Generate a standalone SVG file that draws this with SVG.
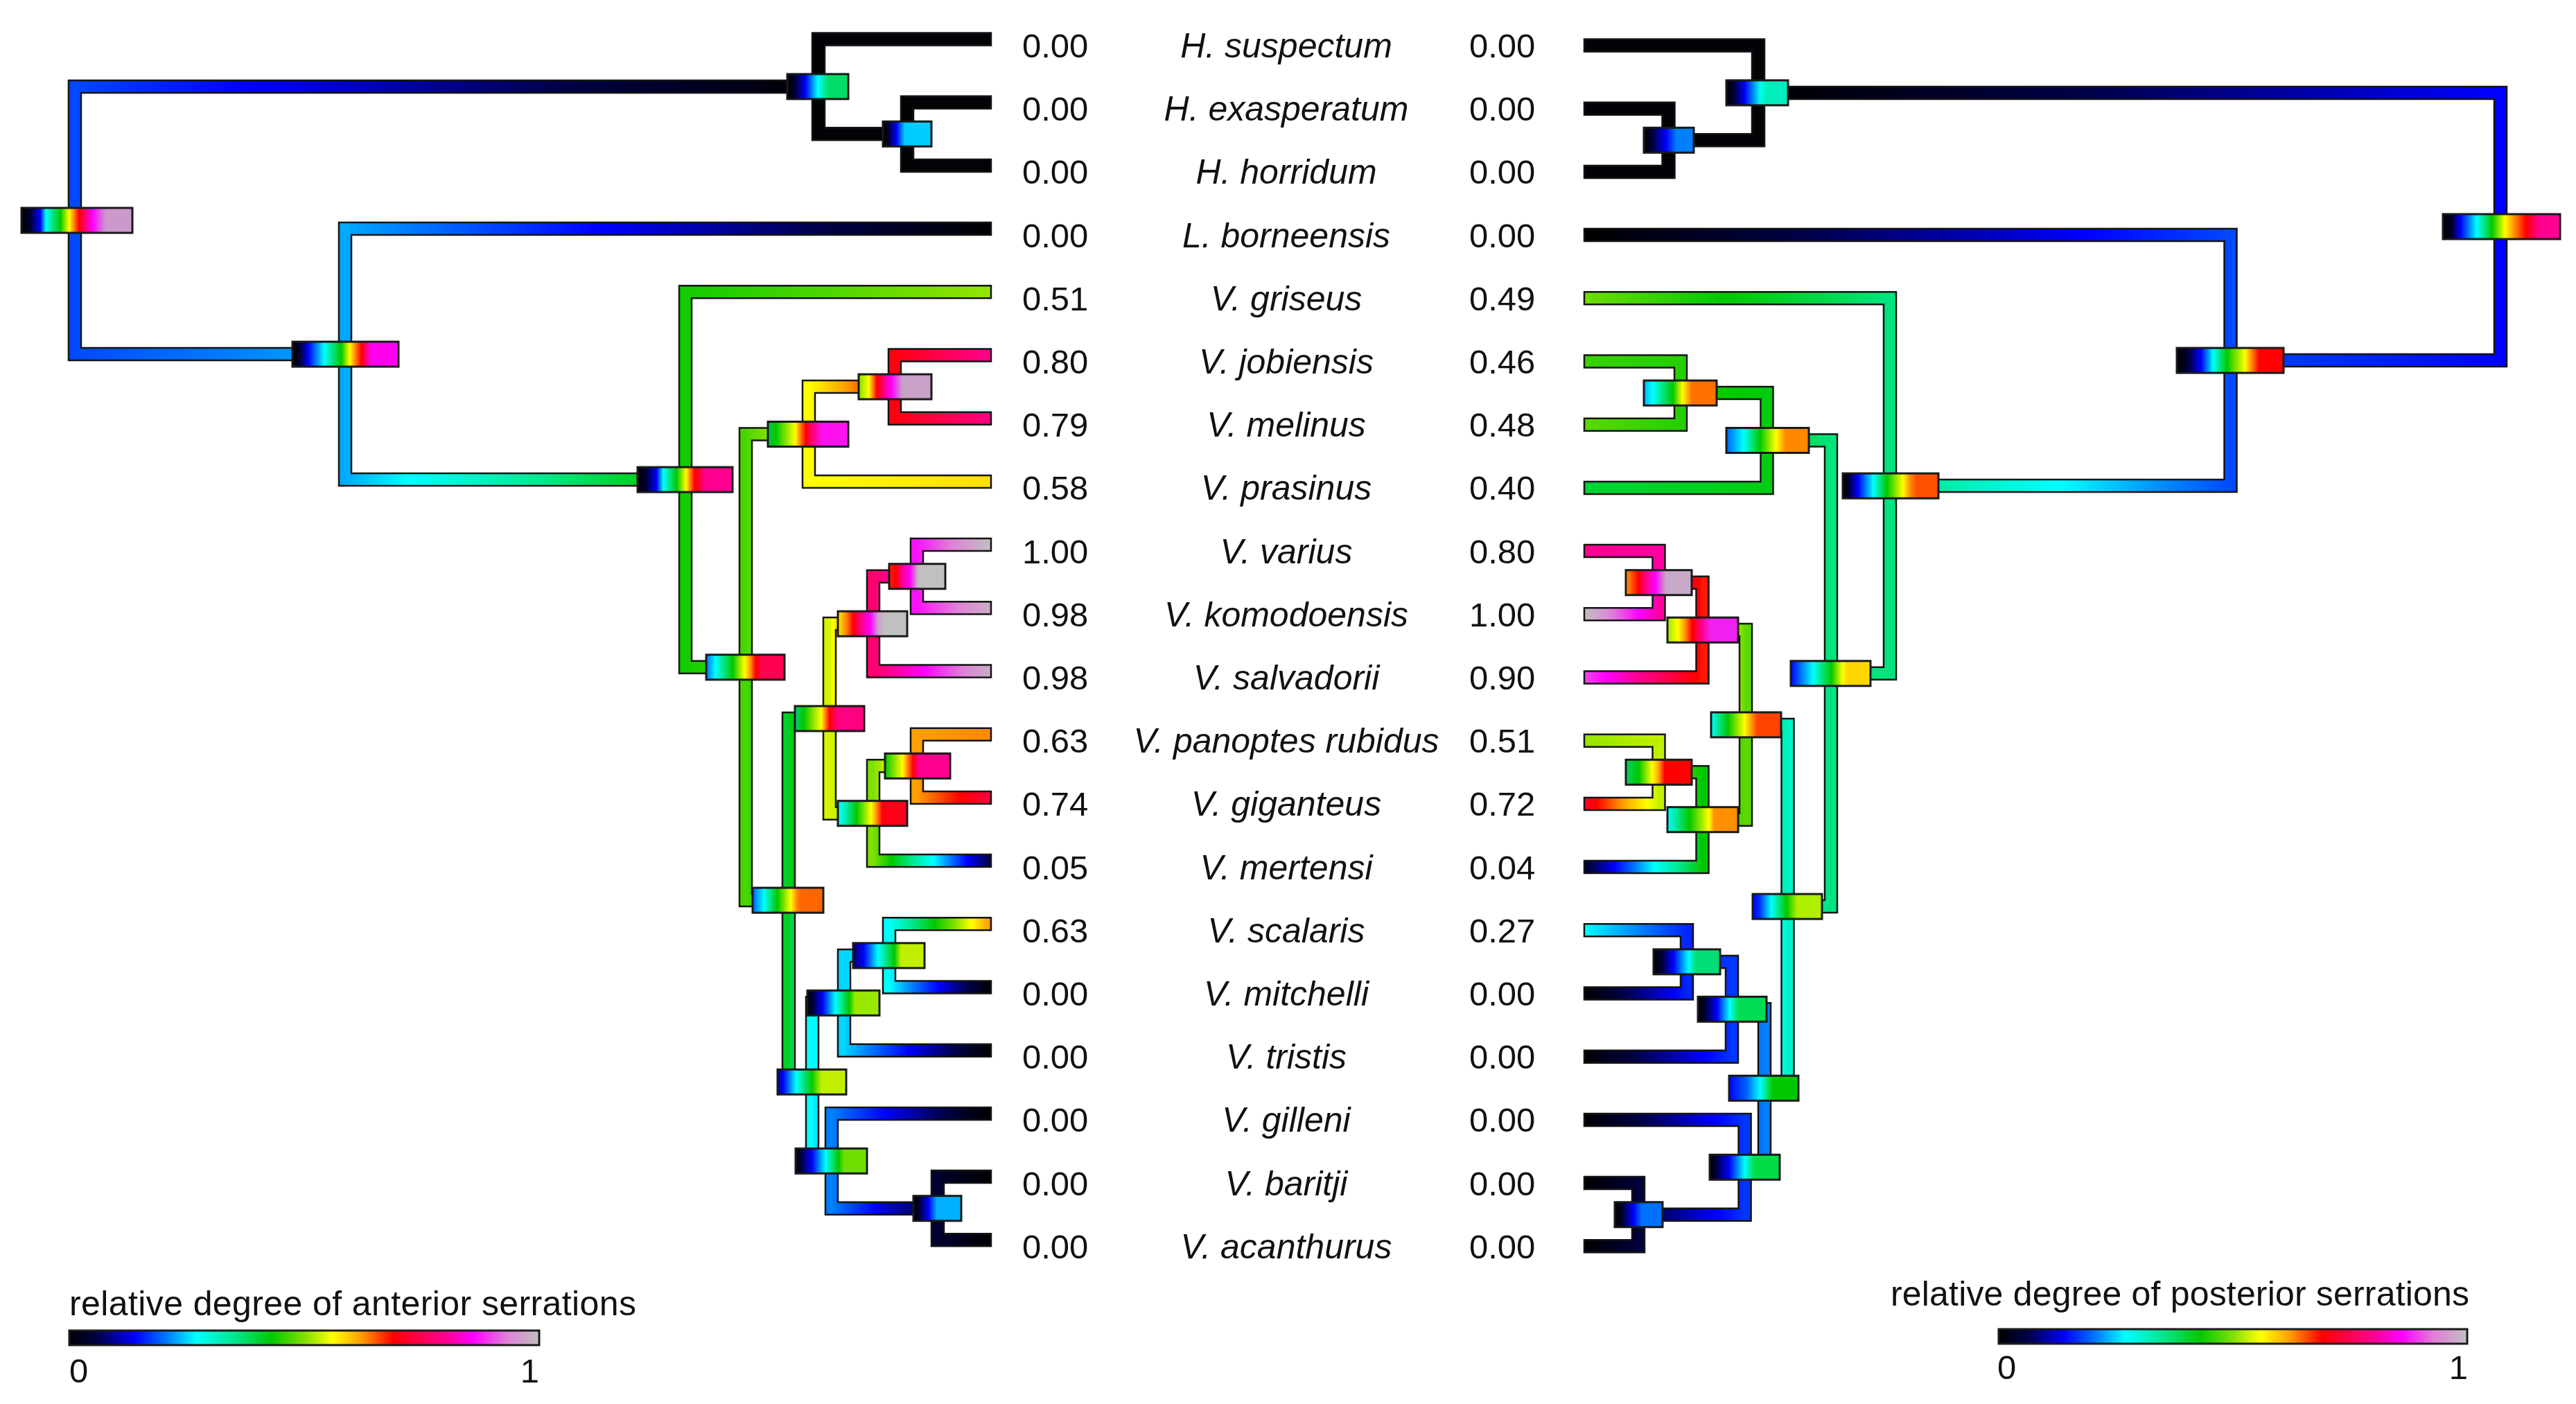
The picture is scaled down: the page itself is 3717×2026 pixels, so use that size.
<svg xmlns="http://www.w3.org/2000/svg" width="3717" height="2026" viewBox="0 0 3717 2026">
<defs>
<style>
.br{stroke:#141414;stroke-width:2.5;stroke-linejoin:miter}
.blk{fill:#020207}
.nd{stroke:#1a1a1a;stroke-width:3}
.num{font-family:"Liberation Sans",Arial,sans-serif;font-size:49px;fill:#111}
.sp{font-family:"Liberation Sans",Arial,sans-serif;font-size:50px;font-style:italic;fill:#111;text-anchor:middle}
.lg{font-family:"Liberation Sans",Arial,sans-serif;font-size:50px;fill:#111}
</style>
<linearGradient id="cmap">
<stop offset="0" stop-color="#000000"/><stop offset="0.06" stop-color="#000045"/><stop offset="0.14" stop-color="#0000ff"/><stop offset="0.21" stop-color="#0080ff"/><stop offset="0.27" stop-color="#00ffff"/><stop offset="0.35" stop-color="#00e890"/><stop offset="0.43" stop-color="#00c800"/><stop offset="0.50" stop-color="#80e000"/><stop offset="0.56" stop-color="#ffff00"/><stop offset="0.62" stop-color="#ffa000"/><stop offset="0.69" stop-color="#ff0000"/><stop offset="0.76" stop-color="#ff0060"/><stop offset="0.80" stop-color="#ff0090"/><stop offset="0.86" stop-color="#ff00ff"/><stop offset="0.93" stop-color="#e080d8"/><stop offset="1" stop-color="#c0c0c0"/>
</linearGradient>
<!-- left branch gradients -->
<linearGradient id="gL_H" gradientUnits="userSpaceOnUse" x1="108" y1="0" x2="1181" y2="0"><stop offset="0" stop-color="#0049ff"/><stop offset="0.222" stop-color="#0000ff"/><stop offset="0.667" stop-color="#000045"/><stop offset="1" stop-color="#000000"/></linearGradient>
<linearGradient id="gL_LV" gradientUnits="userSpaceOnUse" x1="108" y1="0" x2="498" y2="0"><stop offset="0" stop-color="#0049ff"/><stop offset="0.6" stop-color="#0080ff"/><stop offset="1" stop-color="#00aaff"/></linearGradient>
<linearGradient id="gL_born" gradientUnits="userSpaceOnUse" x1="498" y1="0" x2="1430" y2="0"><stop offset="0" stop-color="#00aaff"/><stop offset="0.087" stop-color="#0080ff"/><stop offset="0.391" stop-color="#0000ff"/><stop offset="0.739" stop-color="#000045"/><stop offset="1" stop-color="#000000"/></linearGradient>
<linearGradient id="gL_V1" gradientUnits="userSpaceOnUse" x1="498" y1="0" x2="989" y2="0"><stop offset="0" stop-color="#00aaff"/><stop offset="0.19" stop-color="#00ffff"/><stop offset="0.571" stop-color="#00e890"/><stop offset="0.952" stop-color="#00c800"/><stop offset="1" stop-color="#12cb00"/></linearGradient>
<linearGradient id="gL_gris" gradientUnits="userSpaceOnUse" x1="989" y1="0" x2="1430" y2="0"><stop offset="0" stop-color="#12cb00"/><stop offset="0.857" stop-color="#80e000"/><stop offset="1" stop-color="#95e500"/></linearGradient>
<linearGradient id="gL_X" gradientUnits="userSpaceOnUse" x1="989" y1="0" x2="1076" y2="0"><stop offset="0" stop-color="#12cb00"/><stop offset="1" stop-color="#49d600"/></linearGradient>
<linearGradient id="gL_pjm" gradientUnits="userSpaceOnUse" x1="1076" y1="0" x2="1167" y2="0"><stop offset="0" stop-color="#49d600"/><stop offset="0.333" stop-color="#80e000"/><stop offset="1" stop-color="#ffff00"/></linearGradient>
<linearGradient id="gL_lower" gradientUnits="userSpaceOnUse" x1="1076" y1="0" x2="1138" y2="0"><stop offset="0" stop-color="#49d600"/><stop offset="0.667" stop-color="#00c800"/><stop offset="1" stop-color="#00d024"/></linearGradient>
<linearGradient id="gL_jm" gradientUnits="userSpaceOnUse" x1="1167" y1="0" x2="1291" y2="0"><stop offset="0" stop-color="#ffff00"/><stop offset="0.429" stop-color="#ffa000"/><stop offset="0.929" stop-color="#ff0000"/><stop offset="1" stop-color="#ff000e"/></linearGradient>
<linearGradient id="gL_pras" gradientUnits="userSpaceOnUse" x1="1167" y1="0" x2="1430" y2="0"><stop offset="0" stop-color="#ffff00"/><stop offset="1" stop-color="#ffdf00"/></linearGradient>
<linearGradient id="gL_job" gradientUnits="userSpaceOnUse" x1="1291" y1="0" x2="1430" y2="0"><stop offset="0" stop-color="#ff000e"/><stop offset="0.6" stop-color="#ff0060"/><stop offset="1" stop-color="#ff0090"/></linearGradient>
<linearGradient id="gL_mel" gradientUnits="userSpaceOnUse" x1="1291" y1="0" x2="1430" y2="0"><stop offset="0" stop-color="#ff000e"/><stop offset="0.667" stop-color="#ff0060"/><stop offset="1" stop-color="#ff0084"/></linearGradient>
<linearGradient id="gL_big" gradientUnits="userSpaceOnUse" x1="1138" y1="0" x2="1197" y2="0"><stop offset="0" stop-color="#00d024"/><stop offset="0.154" stop-color="#00c800"/><stop offset="0.692" stop-color="#80e000"/><stop offset="1" stop-color="#d5f500"/></linearGradient>
<linearGradient id="gL_odat" gradientUnits="userSpaceOnUse" x1="1138" y1="0" x2="1172" y2="0"><stop offset="0" stop-color="#00d024"/><stop offset="0.429" stop-color="#00e890"/><stop offset="1" stop-color="#00ffff"/></linearGradient>
<linearGradient id="gL_vks" gradientUnits="userSpaceOnUse" x1="1197" y1="0" x2="1260" y2="0"><stop offset="0" stop-color="#d5f500"/><stop offset="0.087" stop-color="#ffff00"/><stop offset="0.348" stop-color="#ffa000"/><stop offset="0.652" stop-color="#ff0000"/><stop offset="0.957" stop-color="#ff0060"/><stop offset="1" stop-color="#ff006c"/></linearGradient>
<linearGradient id="gL_pgm" gradientUnits="userSpaceOnUse" x1="1197" y1="0" x2="1260" y2="0"><stop offset="0" stop-color="#d5f500"/><stop offset="1" stop-color="#80e000"/></linearGradient>
<linearGradient id="gL_vk" gradientUnits="userSpaceOnUse" x1="1260" y1="0" x2="1323" y2="0"><stop offset="0" stop-color="#ff006c"/><stop offset="0.3" stop-color="#ff0090"/><stop offset="0.9" stop-color="#ff00ff"/><stop offset="1" stop-color="#fa12f9"/></linearGradient>
<linearGradient id="gL_salv" gradientUnits="userSpaceOnUse" x1="1260" y1="0" x2="1430" y2="0"><stop offset="0" stop-color="#ff006c"/><stop offset="0.143" stop-color="#ff0090"/><stop offset="0.429" stop-color="#ff00ff"/><stop offset="0.762" stop-color="#e080d8"/><stop offset="1" stop-color="#c9aec7"/></linearGradient>
<linearGradient id="gL_var" gradientUnits="userSpaceOnUse" x1="1323" y1="0" x2="1430" y2="0"><stop offset="0" stop-color="#fa12f9"/><stop offset="0.462" stop-color="#e080d8"/><stop offset="1" stop-color="#c0c0c0"/></linearGradient>
<linearGradient id="gL_komo" gradientUnits="userSpaceOnUse" x1="1323" y1="0" x2="1430" y2="0"><stop offset="0" stop-color="#fa12f9"/><stop offset="0.545" stop-color="#e080d8"/><stop offset="1" stop-color="#c9aec7"/></linearGradient>
<linearGradient id="gL_pg" gradientUnits="userSpaceOnUse" x1="1260" y1="0" x2="1323" y2="0"><stop offset="0" stop-color="#80e000"/><stop offset="0.5" stop-color="#ffff00"/><stop offset="1" stop-color="#ffa000"/></linearGradient>
<linearGradient id="gL_mert" gradientUnits="userSpaceOnUse" x1="1260" y1="0" x2="1430" y2="0"><stop offset="0" stop-color="#80e000"/><stop offset="0.156" stop-color="#00c800"/><stop offset="0.333" stop-color="#00e890"/><stop offset="0.511" stop-color="#00ffff"/><stop offset="0.644" stop-color="#0080ff"/><stop offset="0.8" stop-color="#0000ff"/><stop offset="1" stop-color="#00003a"/></linearGradient>
<linearGradient id="gL_pan" gradientUnits="userSpaceOnUse" x1="1323" y1="0" x2="1430" y2="0"><stop offset="0" stop-color="#ffa000"/><stop offset="1" stop-color="#ff8900"/></linearGradient>
<linearGradient id="gL_gig" gradientUnits="userSpaceOnUse" x1="1323" y1="0" x2="1430" y2="0"><stop offset="0" stop-color="#ffa000"/><stop offset="0.583" stop-color="#ff0000"/><stop offset="1" stop-color="#ff0045"/></linearGradient>
<linearGradient id="gL_smt" gradientUnits="userSpaceOnUse" x1="1172" y1="0" x2="1218" y2="0"><stop offset="0" stop-color="#00ffff"/><stop offset="1" stop-color="#00d5ff"/></linearGradient>
<linearGradient id="gL_gba" gradientUnits="userSpaceOnUse" x1="1172" y1="0" x2="1200" y2="0"><stop offset="0" stop-color="#00ffff"/><stop offset="1" stop-color="#0080ff"/></linearGradient>
<linearGradient id="gL_sm" gradientUnits="userSpaceOnUse" x1="1218" y1="0" x2="1283" y2="0"><stop offset="0" stop-color="#00d5ff"/><stop offset="1" stop-color="#00ffff"/></linearGradient>
<linearGradient id="gL_tris" gradientUnits="userSpaceOnUse" x1="1218" y1="0" x2="1430" y2="0"><stop offset="0" stop-color="#00d5ff"/><stop offset="0.16" stop-color="#0080ff"/><stop offset="0.44" stop-color="#0000ff"/><stop offset="0.76" stop-color="#000045"/><stop offset="1" stop-color="#000000"/></linearGradient>
<linearGradient id="gL_scal" gradientUnits="userSpaceOnUse" x1="1283" y1="0" x2="1430" y2="0"><stop offset="0" stop-color="#00ffff"/><stop offset="0.222" stop-color="#00e890"/><stop offset="0.444" stop-color="#00c800"/><stop offset="0.639" stop-color="#80e000"/><stop offset="0.806" stop-color="#ffff00"/><stop offset="0.972" stop-color="#ffa000"/><stop offset="1" stop-color="#ff8900"/></linearGradient>
<linearGradient id="gL_mitch" gradientUnits="userSpaceOnUse" x1="1283" y1="0" x2="1430" y2="0"><stop offset="0" stop-color="#00ffff"/><stop offset="0.222" stop-color="#0080ff"/><stop offset="0.481" stop-color="#0000ff"/><stop offset="0.778" stop-color="#000045"/><stop offset="1" stop-color="#000000"/></linearGradient>
<linearGradient id="gL_gill" gradientUnits="userSpaceOnUse" x1="1200" y1="0" x2="1430" y2="0"><stop offset="0" stop-color="#0080ff"/><stop offset="0.333" stop-color="#0000ff"/><stop offset="0.714" stop-color="#000045"/><stop offset="1" stop-color="#000000"/></linearGradient>
<linearGradient id="gL_ba" gradientUnits="userSpaceOnUse" x1="1200" y1="0" x2="1353" y2="0"><stop offset="0" stop-color="#0080ff"/><stop offset="0.412" stop-color="#0000ff"/><stop offset="0.882" stop-color="#000045"/><stop offset="1" stop-color="#00002e"/></linearGradient>
<linearGradient id="gL_bar" gradientUnits="userSpaceOnUse" x1="1353" y1="0" x2="1430" y2="0"><stop offset="0" stop-color="#00002e"/><stop offset="1" stop-color="#000000"/></linearGradient>
<!-- right branch gradients -->
<linearGradient id="gR_H" gradientUnits="userSpaceOnUse" x1="3608" y1="0" x2="2537" y2="0"><stop offset="0" stop-color="#0000ff"/><stop offset="0.571" stop-color="#000045"/><stop offset="1" stop-color="#000000"/></linearGradient>
<linearGradient id="gR_LV" gradientUnits="userSpaceOnUse" x1="3608" y1="0" x2="3218.5" y2="0"><stop offset="0" stop-color="#0000ff"/><stop offset="1" stop-color="#0049ff"/></linearGradient>
<linearGradient id="gR_born" gradientUnits="userSpaceOnUse" x1="3218.5" y1="0" x2="2286" y2="0"><stop offset="0" stop-color="#0049ff"/><stop offset="0.222" stop-color="#0000ff"/><stop offset="0.667" stop-color="#000045"/><stop offset="1" stop-color="#000000"/></linearGradient>
<linearGradient id="gR_V1" gradientUnits="userSpaceOnUse" x1="3218.5" y1="0" x2="2727" y2="0"><stop offset="0" stop-color="#0049ff"/><stop offset="0.167" stop-color="#0080ff"/><stop offset="0.5" stop-color="#00ffff"/><stop offset="0.944" stop-color="#00e890"/><stop offset="1" stop-color="#00e47e"/></linearGradient>
<linearGradient id="gR_gris" gradientUnits="userSpaceOnUse" x1="2727" y1="0" x2="2286" y2="0"><stop offset="0" stop-color="#00e47e"/><stop offset="0.538" stop-color="#00c800"/><stop offset="1" stop-color="#6edd00"/></linearGradient>
<linearGradient id="gR_pjm" gradientUnits="userSpaceOnUse" x1="2642" y1="0" x2="2549.5" y2="0"><stop offset="0" stop-color="#00e47e"/><stop offset="1" stop-color="#00cc12"/></linearGradient>
<linearGradient id="gR_lower" gradientUnits="userSpaceOnUse" x1="2642" y1="0" x2="2579.5" y2="0"><stop offset="0" stop-color="#00e47e"/><stop offset="0.2" stop-color="#00e890"/><stop offset="1" stop-color="#00f3c8"/></linearGradient>
<linearGradient id="gR_jm" gradientUnits="userSpaceOnUse" x1="2549.5" y1="0" x2="2425" y2="0"><stop offset="0" stop-color="#00cc12"/><stop offset="0.333" stop-color="#00c800"/><stop offset="1" stop-color="#25cf00"/></linearGradient>
<linearGradient id="gR_pras" gradientUnits="userSpaceOnUse" x1="2549.5" y1="0" x2="2286" y2="0"><stop offset="0" stop-color="#00cc12"/><stop offset="1" stop-color="#00d436"/></linearGradient>
<linearGradient id="gR_job" gradientUnits="userSpaceOnUse" x1="2425" y1="0" x2="2286" y2="0"><stop offset="0" stop-color="#25cf00"/><stop offset="1" stop-color="#37d200"/></linearGradient>
<linearGradient id="gR_mel" gradientUnits="userSpaceOnUse" x1="2425" y1="0" x2="2286" y2="0"><stop offset="0" stop-color="#25cf00"/><stop offset="1" stop-color="#5bd900"/></linearGradient>
<linearGradient id="gR_big" gradientUnits="userSpaceOnUse" x1="2579.5" y1="0" x2="2519" y2="0"><stop offset="0" stop-color="#00f3c8"/><stop offset="0.235" stop-color="#00e890"/><stop offset="0.706" stop-color="#00c800"/><stop offset="1" stop-color="#5bd900"/></linearGradient>
<linearGradient id="gR_odat" gradientUnits="userSpaceOnUse" x1="2579.5" y1="0" x2="2546" y2="0"><stop offset="0" stop-color="#00f3c8"/><stop offset="0.4" stop-color="#00ffff"/><stop offset="1" stop-color="#0080ff"/></linearGradient>
<linearGradient id="gR_vks" gradientUnits="userSpaceOnUse" x1="2519" y1="0" x2="2456.5" y2="0"><stop offset="0" stop-color="#5bd900"/><stop offset="0.1" stop-color="#80e000"/><stop offset="0.4" stop-color="#ffff00"/><stop offset="0.7" stop-color="#ffa000"/><stop offset="1" stop-color="#ff1700"/></linearGradient>
<linearGradient id="gR_pgm" gradientUnits="userSpaceOnUse" x1="2519" y1="0" x2="2456.5" y2="0"><stop offset="0" stop-color="#5bd900"/><stop offset="1" stop-color="#00c800"/></linearGradient>
<linearGradient id="gR_vk" gradientUnits="userSpaceOnUse" x1="2456.5" y1="0" x2="2393.5" y2="0"><stop offset="0" stop-color="#ff1700"/><stop offset="0.077" stop-color="#ff0000"/><stop offset="0.615" stop-color="#ff0060"/><stop offset="0.923" stop-color="#ff0090"/><stop offset="1" stop-color="#ff00a2"/></linearGradient>
<linearGradient id="gR_salv" gradientUnits="userSpaceOnUse" x1="2456.5" y1="0" x2="2286" y2="0"><stop offset="0" stop-color="#ff1700"/><stop offset="0.045" stop-color="#ff0000"/><stop offset="0.364" stop-color="#ff0060"/><stop offset="0.545" stop-color="#ff0090"/><stop offset="0.818" stop-color="#ff00ff"/><stop offset="1" stop-color="#ed49e8"/></linearGradient>
<linearGradient id="gR_var" gradientUnits="userSpaceOnUse" x1="2393.5" y1="0" x2="2286" y2="0"><stop offset="0" stop-color="#ff00a2"/><stop offset="1" stop-color="#ff0090"/></linearGradient>
<linearGradient id="gR_komo" gradientUnits="userSpaceOnUse" x1="2393.5" y1="0" x2="2286" y2="0"><stop offset="0" stop-color="#ff00a2"/><stop offset="0.263" stop-color="#ff00ff"/><stop offset="0.632" stop-color="#e080d8"/><stop offset="1" stop-color="#c0c0c0"/></linearGradient>
<linearGradient id="gR_pg" gradientUnits="userSpaceOnUse" x1="2456.5" y1="0" x2="2393.5" y2="0"><stop offset="0" stop-color="#00c800"/><stop offset="0.7" stop-color="#80e000"/><stop offset="1" stop-color="#c0f000"/></linearGradient>
<linearGradient id="gR_mert" gradientUnits="userSpaceOnUse" x1="2456.5" y1="0" x2="2286" y2="0"><stop offset="0" stop-color="#00c800"/><stop offset="0.205" stop-color="#00e890"/><stop offset="0.41" stop-color="#00ffff"/><stop offset="0.564" stop-color="#0080ff"/><stop offset="0.744" stop-color="#0000ff"/><stop offset="0.949" stop-color="#000045"/><stop offset="1" stop-color="#00002e"/></linearGradient>
<linearGradient id="gR_pan" gradientUnits="userSpaceOnUse" x1="2393.5" y1="0" x2="2286" y2="0"><stop offset="0" stop-color="#c0f000"/><stop offset="1" stop-color="#95e500"/></linearGradient>
<linearGradient id="gR_gig" gradientUnits="userSpaceOnUse" x1="2393.5" y1="0" x2="2286" y2="0"><stop offset="0" stop-color="#c0f000"/><stop offset="0.158" stop-color="#ffff00"/><stop offset="0.474" stop-color="#ffa000"/><stop offset="0.842" stop-color="#ff0000"/><stop offset="1" stop-color="#ff0029"/></linearGradient>
<linearGradient id="gR_smt" gradientUnits="userSpaceOnUse" x1="2546" y1="0" x2="2499" y2="0"><stop offset="0" stop-color="#0080ff"/><stop offset="1" stop-color="#0037ff"/></linearGradient>
<linearGradient id="gR_gba" gradientUnits="userSpaceOnUse" x1="2546" y1="0" x2="2517.6" y2="0"><stop offset="0" stop-color="#0080ff"/><stop offset="1" stop-color="#0037ff"/></linearGradient>
<linearGradient id="gR_sm" gradientUnits="userSpaceOnUse" x1="2499" y1="0" x2="2434" y2="0"><stop offset="0" stop-color="#0037ff"/><stop offset="1" stop-color="#0025ff"/></linearGradient>
<linearGradient id="gR_tris" gradientUnits="userSpaceOnUse" x1="2499" y1="0" x2="2286" y2="0"><stop offset="0" stop-color="#0037ff"/><stop offset="0.176" stop-color="#0000ff"/><stop offset="0.647" stop-color="#000045"/><stop offset="1" stop-color="#000000"/></linearGradient>
<linearGradient id="gR_scal" gradientUnits="userSpaceOnUse" x1="2434" y1="0" x2="2286" y2="0"><stop offset="0" stop-color="#0025ff"/><stop offset="0.455" stop-color="#0080ff"/><stop offset="1" stop-color="#00ffff"/></linearGradient>
<linearGradient id="gR_mitch" gradientUnits="userSpaceOnUse" x1="2434" y1="0" x2="2286" y2="0"><stop offset="0" stop-color="#0025ff"/><stop offset="0.125" stop-color="#0000ff"/><stop offset="0.625" stop-color="#000045"/><stop offset="1" stop-color="#000000"/></linearGradient>
<linearGradient id="gR_gill" gradientUnits="userSpaceOnUse" x1="2517.6" y1="0" x2="2286" y2="0"><stop offset="0" stop-color="#0037ff"/><stop offset="0.176" stop-color="#0000ff"/><stop offset="0.647" stop-color="#000045"/><stop offset="1" stop-color="#000000"/></linearGradient>
<linearGradient id="gR_ba" gradientUnits="userSpaceOnUse" x1="2517.6" y1="0" x2="2364" y2="0"><stop offset="0" stop-color="#0037ff"/><stop offset="0.25" stop-color="#0000ff"/><stop offset="0.917" stop-color="#000045"/><stop offset="1" stop-color="#00003a"/></linearGradient>
<linearGradient id="gR_bar" gradientUnits="userSpaceOnUse" x1="2364" y1="0" x2="2286" y2="0"><stop offset="0" stop-color="#00003a"/><stop offset="1" stop-color="#000000"/></linearGradient>
<!-- left node boxes -->
<linearGradient id="bL_root"><stop offset="0" stop-color="#000"/><stop offset="0.08" stop-color="#000030"/><stop offset="0.17" stop-color="#0000ff"/><stop offset="0.22" stop-color="#00ffff"/><stop offset="0.35" stop-color="#00c800"/><stop offset="0.43" stop-color="#ffff00"/><stop offset="0.52" stop-color="#ff0000"/><stop offset="0.64" stop-color="#ff00ff"/><stop offset="0.76" stop-color="#cc99cc"/><stop offset="1" stop-color="#cc99cc"/></linearGradient>
<linearGradient id="bL_H"><stop offset="0" stop-color="#000"/><stop offset="0.13" stop-color="#000030"/><stop offset="0.3" stop-color="#0000ff"/><stop offset="0.5" stop-color="#00ffff"/><stop offset="0.68" stop-color="#00dd66"/><stop offset="1" stop-color="#00dd66"/></linearGradient>
<linearGradient id="bL_Heh"><stop offset="0" stop-color="#000"/><stop offset="0.1" stop-color="#000020"/><stop offset="0.28" stop-color="#0000ff"/><stop offset="0.45" stop-color="#00ccff"/><stop offset="1" stop-color="#00ccff"/></linearGradient>
<linearGradient id="bL_LV"><stop offset="0" stop-color="#000"/><stop offset="0.07" stop-color="#000030"/><stop offset="0.15" stop-color="#0000ff"/><stop offset="0.3" stop-color="#00ffff"/><stop offset="0.46" stop-color="#00c800"/><stop offset="0.54" stop-color="#ffff00"/><stop offset="0.65" stop-color="#ff0000"/><stop offset="0.74" stop-color="#ff00ee"/><stop offset="1" stop-color="#ff00ee"/></linearGradient>
<linearGradient id="bL_V1"><stop offset="0" stop-color="#000"/><stop offset="0.09" stop-color="#000030"/><stop offset="0.2" stop-color="#0000ff"/><stop offset="0.27" stop-color="#00ffff"/><stop offset="0.41" stop-color="#00c800"/><stop offset="0.51" stop-color="#ffff00"/><stop offset="0.6" stop-color="#ff0000"/><stop offset="0.72" stop-color="#ff0090"/><stop offset="1" stop-color="#ff0090"/></linearGradient>
<linearGradient id="bL_X"><stop offset="0" stop-color="#0070ff"/><stop offset="0.12" stop-color="#00ffff"/><stop offset="0.34" stop-color="#00c800"/><stop offset="0.49" stop-color="#ffff00"/><stop offset="0.56" stop-color="#ffa000"/><stop offset="0.63" stop-color="#ff0000"/><stop offset="0.71" stop-color="#ff0050"/><stop offset="1" stop-color="#ff0050"/></linearGradient>
<linearGradient id="bL_pjm"><stop offset="0" stop-color="#00c850"/><stop offset="0.1" stop-color="#00c800"/><stop offset="0.34" stop-color="#ffff00"/><stop offset="0.47" stop-color="#ff0000"/><stop offset="0.56" stop-color="#ff0080"/><stop offset="0.67" stop-color="#ff10f0"/><stop offset="1" stop-color="#ff10f0"/></linearGradient>
<linearGradient id="bL_jm"><stop offset="0" stop-color="#80e000"/><stop offset="0.14" stop-color="#ffff00"/><stop offset="0.25" stop-color="#ff0000"/><stop offset="0.45" stop-color="#ff00ff"/><stop offset="0.6" stop-color="#c8a0c8"/><stop offset="1" stop-color="#c8a0c8"/></linearGradient>
<linearGradient id="bL_lower"><stop offset="0" stop-color="#0060ff"/><stop offset="0.16" stop-color="#00ffff"/><stop offset="0.35" stop-color="#00c800"/><stop offset="0.54" stop-color="#ffff00"/><stop offset="0.63" stop-color="#ff8000"/><stop offset="0.68" stop-color="#ff6600"/><stop offset="1" stop-color="#ff6600"/></linearGradient>
<linearGradient id="bL_big"><stop offset="0" stop-color="#00d070"/><stop offset="0.13" stop-color="#00c800"/><stop offset="0.25" stop-color="#80e000"/><stop offset="0.38" stop-color="#ffff00"/><stop offset="0.5" stop-color="#ff0000"/><stop offset="0.62" stop-color="#ff0080"/><stop offset="1" stop-color="#ff0080"/></linearGradient>
<linearGradient id="bL_vks"><stop offset="0" stop-color="#ffee00"/><stop offset="0.12" stop-color="#ff8800"/><stop offset="0.22" stop-color="#ff0000"/><stop offset="0.33" stop-color="#ff0080"/><stop offset="0.47" stop-color="#ff00ff"/><stop offset="0.58" stop-color="#d0a0d0"/><stop offset="0.68" stop-color="#c0c0c0"/><stop offset="1" stop-color="#c0c0c0"/></linearGradient>
<linearGradient id="bL_vk"><stop offset="0" stop-color="#ff2000"/><stop offset="0.12" stop-color="#ff0000"/><stop offset="0.22" stop-color="#ff0080"/><stop offset="0.37" stop-color="#ff00ff"/><stop offset="0.52" stop-color="#c0c0c0"/><stop offset="1" stop-color="#c0c0c0"/></linearGradient>
<linearGradient id="bL_pgm"><stop offset="0" stop-color="#00ffff"/><stop offset="0.1" stop-color="#00f0c0"/><stop offset="0.27" stop-color="#00c800"/><stop offset="0.48" stop-color="#ffff00"/><stop offset="0.55" stop-color="#ffa000"/><stop offset="0.64" stop-color="#ff0010"/><stop offset="1" stop-color="#ff0020"/></linearGradient>
<linearGradient id="bL_pg"><stop offset="0" stop-color="#00c800"/><stop offset="0.27" stop-color="#ffff00"/><stop offset="0.43" stop-color="#ff0000"/><stop offset="0.52" stop-color="#ff0090"/><stop offset="1" stop-color="#ff0090"/></linearGradient>
<linearGradient id="bL_odat"><stop offset="0" stop-color="#0000aa"/><stop offset="0.08" stop-color="#0000ff"/><stop offset="0.27" stop-color="#00ffff"/><stop offset="0.5" stop-color="#00c800"/><stop offset="0.64" stop-color="#c0f000"/><stop offset="1" stop-color="#c0f000"/></linearGradient>
<linearGradient id="bL_smt"><stop offset="0" stop-color="#000"/><stop offset="0.08" stop-color="#000040"/><stop offset="0.21" stop-color="#0000ff"/><stop offset="0.39" stop-color="#00ffff"/><stop offset="0.58" stop-color="#00c800"/><stop offset="0.66" stop-color="#99e800"/><stop offset="1" stop-color="#99e800"/></linearGradient>
<linearGradient id="bL_sm"><stop offset="0" stop-color="#000060"/><stop offset="0.15" stop-color="#0000ff"/><stop offset="0.35" stop-color="#00ffff"/><stop offset="0.58" stop-color="#00c800"/><stop offset="0.67" stop-color="#c0f000"/><stop offset="1" stop-color="#c0f000"/></linearGradient>
<linearGradient id="bL_gba"><stop offset="0" stop-color="#000"/><stop offset="0.08" stop-color="#000040"/><stop offset="0.23" stop-color="#0000ff"/><stop offset="0.42" stop-color="#00ffff"/><stop offset="0.6" stop-color="#00c800"/><stop offset="0.68" stop-color="#6ee000"/><stop offset="1" stop-color="#6ee000"/></linearGradient>
<linearGradient id="bL_ba"><stop offset="0" stop-color="#000"/><stop offset="0.12" stop-color="#000030"/><stop offset="0.32" stop-color="#0000ff"/><stop offset="0.49" stop-color="#00b0ff"/><stop offset="1" stop-color="#00b0ff"/></linearGradient>
<!-- right node boxes -->
<linearGradient id="bR_root"><stop offset="0" stop-color="#000"/><stop offset="0.08" stop-color="#000030"/><stop offset="0.15" stop-color="#0000ff"/><stop offset="0.29" stop-color="#00ffff"/><stop offset="0.42" stop-color="#00c800"/><stop offset="0.53" stop-color="#ffff00"/><stop offset="0.71" stop-color="#ff0000"/><stop offset="0.82" stop-color="#ff0090"/><stop offset="1" stop-color="#ff0090"/></linearGradient>
<linearGradient id="bR_H"><stop offset="0" stop-color="#000"/><stop offset="0.12" stop-color="#000030"/><stop offset="0.3" stop-color="#0000ff"/><stop offset="0.55" stop-color="#00ffee"/><stop offset="0.65" stop-color="#00eebb"/><stop offset="1" stop-color="#00eebb"/></linearGradient>
<linearGradient id="bR_Heh"><stop offset="0" stop-color="#000"/><stop offset="0.15" stop-color="#000030"/><stop offset="0.45" stop-color="#0000ff"/><stop offset="0.65" stop-color="#0080ff"/><stop offset="1" stop-color="#0080ff"/></linearGradient>
<linearGradient id="bR_LV"><stop offset="0" stop-color="#000"/><stop offset="0.1" stop-color="#000030"/><stop offset="0.23" stop-color="#0000ff"/><stop offset="0.34" stop-color="#00ffff"/><stop offset="0.47" stop-color="#00c800"/><stop offset="0.64" stop-color="#ffff00"/><stop offset="0.77" stop-color="#ff0000"/><stop offset="1" stop-color="#ff0000"/></linearGradient>
<linearGradient id="bR_V1"><stop offset="0" stop-color="#000"/><stop offset="0.06" stop-color="#000030"/><stop offset="0.16" stop-color="#0000ff"/><stop offset="0.32" stop-color="#00ffff"/><stop offset="0.46" stop-color="#00c800"/><stop offset="0.63" stop-color="#ffff00"/><stop offset="0.7" stop-color="#ff9000"/><stop offset="0.77" stop-color="#ff5000"/><stop offset="1" stop-color="#ff5000"/></linearGradient>
<linearGradient id="bR_X"><stop offset="0" stop-color="#0000ff"/><stop offset="0.14" stop-color="#0080ff"/><stop offset="0.28" stop-color="#00ffff"/><stop offset="0.51" stop-color="#00c800"/><stop offset="0.65" stop-color="#ffff00"/><stop offset="0.71" stop-color="#ffd700"/><stop offset="1" stop-color="#ffd700"/></linearGradient>
<linearGradient id="bR_pjm"><stop offset="0" stop-color="#0060ff"/><stop offset="0.21" stop-color="#00ffff"/><stop offset="0.41" stop-color="#00c800"/><stop offset="0.6" stop-color="#ffff00"/><stop offset="0.72" stop-color="#ff8800"/><stop offset="1" stop-color="#ff8800"/></linearGradient>
<linearGradient id="bR_jm"><stop offset="0" stop-color="#00b0ff"/><stop offset="0.12" stop-color="#00ffff"/><stop offset="0.4" stop-color="#00c800"/><stop offset="0.53" stop-color="#ffff00"/><stop offset="0.66" stop-color="#ff7000"/><stop offset="1" stop-color="#ff7000"/></linearGradient>
<linearGradient id="bR_lower"><stop offset="0" stop-color="#0000ff"/><stop offset="0.1" stop-color="#0030ff"/><stop offset="0.27" stop-color="#00ffff"/><stop offset="0.49" stop-color="#00c800"/><stop offset="0.64" stop-color="#b0ee00"/><stop offset="1" stop-color="#b0ee00"/></linearGradient>
<linearGradient id="bR_big"><stop offset="0" stop-color="#00ffff"/><stop offset="0.24" stop-color="#00c800"/><stop offset="0.48" stop-color="#ffff00"/><stop offset="0.57" stop-color="#ffa000"/><stop offset="0.66" stop-color="#ff4400"/><stop offset="1" stop-color="#ff4400"/></linearGradient>
<linearGradient id="bR_vks"><stop offset="0" stop-color="#a0e800"/><stop offset="0.15" stop-color="#ffff00"/><stop offset="0.24" stop-color="#ffa000"/><stop offset="0.35" stop-color="#ff0000"/><stop offset="0.48" stop-color="#ff0080"/><stop offset="0.61" stop-color="#f020f0"/><stop offset="1" stop-color="#f020f0"/></linearGradient>
<linearGradient id="bR_vk"><stop offset="0" stop-color="#ffa000"/><stop offset="0.19" stop-color="#ff0000"/><stop offset="0.3" stop-color="#ff0080"/><stop offset="0.45" stop-color="#ff00ff"/><stop offset="0.61" stop-color="#c8a8c8"/><stop offset="1" stop-color="#c8a8c8"/></linearGradient>
<linearGradient id="bR_pgm"><stop offset="0" stop-color="#00ffff"/><stop offset="0.31" stop-color="#00c800"/><stop offset="0.59" stop-color="#ffff00"/><stop offset="0.66" stop-color="#ff9000"/><stop offset="1" stop-color="#ff9000"/></linearGradient>
<linearGradient id="bR_pg"><stop offset="0" stop-color="#00d060"/><stop offset="0.2" stop-color="#00c800"/><stop offset="0.4" stop-color="#ffff00"/><stop offset="0.5" stop-color="#ffa000"/><stop offset="0.59" stop-color="#ff0000"/><stop offset="1" stop-color="#ff0000"/></linearGradient>
<linearGradient id="bR_sm"><stop offset="0" stop-color="#000"/><stop offset="0.12" stop-color="#000030"/><stop offset="0.3" stop-color="#0000ff"/><stop offset="0.53" stop-color="#00ffff"/><stop offset="0.63" stop-color="#00dd77"/><stop offset="1" stop-color="#00dd77"/></linearGradient>
<linearGradient id="bR_smt"><stop offset="0" stop-color="#000"/><stop offset="0.1" stop-color="#000030"/><stop offset="0.28" stop-color="#0000ff"/><stop offset="0.46" stop-color="#00ffff"/><stop offset="0.59" stop-color="#00dd55"/><stop offset="1" stop-color="#00dd55"/></linearGradient>
<linearGradient id="bR_odat"><stop offset="0" stop-color="#0000ff"/><stop offset="0.25" stop-color="#0060ff"/><stop offset="0.45" stop-color="#00ffff"/><stop offset="0.63" stop-color="#00c800"/><stop offset="1" stop-color="#00c800"/></linearGradient>
<linearGradient id="bR_gba"><stop offset="0" stop-color="#000"/><stop offset="0.08" stop-color="#000030"/><stop offset="0.28" stop-color="#0000ff"/><stop offset="0.5" stop-color="#00ffff"/><stop offset="0.64" stop-color="#00dd44"/><stop offset="1" stop-color="#00dd44"/></linearGradient>
<linearGradient id="bR_ba"><stop offset="0" stop-color="#000"/><stop offset="0.14" stop-color="#000020"/><stop offset="0.4" stop-color="#0000ff"/><stop offset="0.56" stop-color="#0070ff"/><stop offset="1" stop-color="#0070ff"/></linearGradient>
</defs>
<rect width="3717" height="2026" fill="#ffffff"/>

<g id="connectors">
<g id="left-branches">
<polygon class="br" fill="url(#gL_H)" points="99,318 99,115.9 1181,115.9 1181,133.9 117,133.9 117,318"/>
<polygon class="br" fill="url(#gL_LV)" points="99,318 99,520.1 498,520.1 498,502.1 117,502.1 117,318"/>
<polygon class="br blk" points="1172,124.9 1172,47.5 1430,47.5 1430,65.5 1190,65.5 1190,124.9"/>
<polygon class="br blk" points="1172,124.9 1172,202.3 1309,202.3 1309,184.3 1190,184.3 1190,124.9"/>
<polygon class="br blk" points="1300,193.3 1300,138.7 1430,138.7 1430,156.7 1318,156.7 1318,193.3"/>
<polygon class="br blk" points="1300,193.3 1300,247.9 1430,247.9 1430,229.9 1318,229.9 1318,193.3"/>
<polygon class="br" fill="url(#gL_born)" points="489,511.1 489,321.1 1430,321.1 1430,339.1 507,339.1 507,511.1"/>
<polygon class="br" fill="url(#gL_V1)" points="489,511.1 489,701.1 989,701.1 989,683.1 507,683.1 507,511.1"/>
<polygon class="br" fill="url(#gL_gris)" points="980,692.1 980,412.3 1430,412.3 1430,430.3 998,430.3 998,692.1"/>
<polygon class="br" fill="url(#gL_X)" points="980,692.1 980,971.8 1076,971.8 1076,953.8 998,953.8 998,692.1"/>
<polygon class="br" fill="url(#gL_pjm)" points="1067,962.8 1067,617.5 1167,617.5 1167,635.5 1085,635.5 1085,962.8"/>
<polygon class="br" fill="url(#gL_lower)" points="1067,962.8 1067,1308.1 1138,1308.1 1138,1290.1 1085,1290.1 1085,962.8"/>
<polygon class="br" fill="url(#gL_jm)" points="1158,626.5 1158,549.1 1291,549.1 1291,567.1 1176,567.1 1176,626.5"/>
<polygon class="br" fill="url(#gL_pras)" points="1158,626.5 1158,703.9 1430,703.9 1430,685.9 1176,685.9 1176,626.5"/>
<polygon class="br" fill="url(#gL_job)" points="1282,558.1 1282,503.5 1430,503.5 1430,521.5 1300,521.5 1300,558.1"/>
<polygon class="br" fill="url(#gL_mel)" points="1282,558.1 1282,612.7 1430,612.7 1430,594.7 1300,594.7 1300,558.1"/>
<polygon class="br" fill="url(#gL_big)" points="1129,1299.1 1129,1027.9 1197,1027.9 1197,1045.9 1147,1045.9 1147,1299.1"/>
<polygon class="br" fill="url(#gL_odat)" points="1129,1299.1 1129,1570.3 1172,1570.3 1172,1552.3 1147,1552.3 1147,1299.1"/>
<polygon class="br" fill="url(#gL_vks)" points="1188,1036.9 1188,891.1 1260,891.1 1260,909.1 1206,909.1 1206,1036.9"/>
<polygon class="br" fill="url(#gL_pgm)" points="1188,1036.9 1188,1182.7 1260,1182.7 1260,1164.7 1206,1164.7 1206,1036.9"/>
<polygon class="br" fill="url(#gL_vk)" points="1251,900.1 1251,822.7 1323,822.7 1323,840.7 1269,840.7 1269,900.1"/>
<polygon class="br" fill="url(#gL_salv)" points="1251,900.1 1251,977.5 1430,977.5 1430,959.5 1269,959.5 1269,900.1"/>
<polygon class="br" fill="url(#gL_var)" points="1314,831.7 1314,777.1 1430,777.1 1430,795.1 1332,795.1 1332,831.7"/>
<polygon class="br" fill="url(#gL_komo)" points="1314,831.7 1314,886.3 1430,886.3 1430,868.3 1332,868.3 1332,831.7"/>
<polygon class="br" fill="url(#gL_pg)" points="1251,1173.7 1251,1096.3 1323,1096.3 1323,1114.3 1269,1114.3 1269,1173.7"/>
<polygon class="br" fill="url(#gL_mert)" points="1251,1173.7 1251,1251.1 1430,1251.1 1430,1233.1 1269,1233.1 1269,1173.7"/>
<polygon class="br" fill="url(#gL_pan)" points="1314,1105.3 1314,1050.7 1430,1050.7 1430,1068.7 1332,1068.7 1332,1105.3"/>
<polygon class="br" fill="url(#gL_gig)" points="1314,1105.3 1314,1159.9 1430,1159.9 1430,1141.9 1332,1141.9 1332,1105.3"/>
<polygon class="br" fill="url(#gL_smt)" points="1163,1561.3 1163,1438.3 1218,1438.3 1218,1456.3 1181,1456.3 1181,1561.3"/>
<polygon class="br" fill="url(#gL_gba)" points="1163,1561.3 1163,1684.3 1200,1684.3 1200,1666.3 1181,1666.3 1181,1561.3"/>
<polygon class="br" fill="url(#gL_sm)" points="1209,1447.3 1209,1369.9 1283,1369.9 1283,1387.9 1227,1387.9 1227,1447.3"/>
<polygon class="br" fill="url(#gL_tris)" points="1209,1447.3 1209,1524.7 1430,1524.7 1430,1506.7 1227,1506.7 1227,1447.3"/>
<polygon class="br" fill="url(#gL_scal)" points="1274,1378.9 1274,1324.3 1430,1324.3 1430,1342.3 1292,1342.3 1292,1378.9"/>
<polygon class="br" fill="url(#gL_mitch)" points="1274,1378.9 1274,1433.5 1430,1433.5 1430,1415.5 1292,1415.5 1292,1378.9"/>
<polygon class="br" fill="url(#gL_gill)" points="1191,1675.3 1191,1597.9 1430,1597.9 1430,1615.9 1209,1615.9 1209,1675.3"/>
<polygon class="br" fill="url(#gL_ba)" points="1191,1675.3 1191,1752.7 1353,1752.7 1353,1734.7 1209,1734.7 1209,1675.3"/>
<polygon class="br" fill="url(#gL_bar)" points="1344,1743.7 1344,1689.1 1430,1689.1 1430,1707.1 1362,1707.1 1362,1743.7"/>
<polygon class="br" fill="url(#gL_bar)" points="1344,1743.7 1344,1798.3 1430,1798.3 1430,1780.3 1362,1780.3 1362,1743.7"/>
</g>
<g id="right-branches">
<polygon class="br" fill="url(#gR_H)" points="3617,327 3617,124.9 2537,124.9 2537,142.9 3599,142.9 3599,327"/>
<polygon class="br" fill="url(#gR_LV)" points="3617,327 3617,529.1 3218.5,529.1 3218.5,511.1 3599,511.1 3599,327"/>
<polygon class="br blk" points="2546,133.9 2546,56.5 2286,56.5 2286,74.5 2528,74.5 2528,133.9"/>
<polygon class="br blk" points="2546,133.9 2546,211.3 2407.5,211.3 2407.5,193.3 2528,193.3 2528,133.9"/>
<polygon class="br blk" points="2416.5,202.3 2416.5,147.7 2286,147.7 2286,165.7 2398.5,165.7 2398.5,202.3"/>
<polygon class="br blk" points="2416.5,202.3 2416.5,256.9 2286,256.9 2286,238.9 2398.5,238.9 2398.5,202.3"/>
<polygon class="br" fill="url(#gR_born)" points="3227.5,520.1 3227.5,330.1 2286,330.1 2286,348.1 3209.5,348.1 3209.5,520.1"/>
<polygon class="br" fill="url(#gR_V1)" points="3227.5,520.1 3227.5,710.1 2727,710.1 2727,692.1 3209.5,692.1 3209.5,520.1"/>
<polygon class="br" fill="url(#gR_gris)" points="2736,701.1 2736,421.3 2286,421.3 2286,439.3 2718,439.3 2718,701.1"/>
<polygon class="br" fill="#00e47e" points="2736,701.1 2736,980.8 2642,980.8 2642,962.8 2718,962.8 2718,701.1"/>
<polygon class="br" fill="url(#gR_pjm)" points="2651,971.8 2651,626.5 2549.5,626.5 2549.5,644.5 2633,644.5 2633,971.8"/>
<polygon class="br" fill="url(#gR_lower)" points="2651,971.8 2651,1317.1 2579.5,1317.1 2579.5,1299.1 2633,1299.1 2633,971.8"/>
<polygon class="br" fill="url(#gR_jm)" points="2558.5,635.5 2558.5,558.1 2425,558.1 2425,576.1 2540.5,576.1 2540.5,635.5"/>
<polygon class="br" fill="url(#gR_pras)" points="2558.5,635.5 2558.5,712.9 2286,712.9 2286,694.9 2540.5,694.9 2540.5,635.5"/>
<polygon class="br" fill="url(#gR_job)" points="2434,567.1 2434,512.5 2286,512.5 2286,530.5 2416,530.5 2416,567.1"/>
<polygon class="br" fill="url(#gR_mel)" points="2434,567.1 2434,621.7 2286,621.7 2286,603.7 2416,603.7 2416,567.1"/>
<polygon class="br" fill="url(#gR_big)" points="2588.5,1308.1 2588.5,1036.9 2519,1036.9 2519,1054.9 2570.5,1054.9 2570.5,1308.1"/>
<polygon class="br" fill="url(#gR_odat)" points="2588.5,1308.1 2588.5,1579.3 2546,1579.3 2546,1561.3 2570.5,1561.3 2570.5,1308.1"/>
<polygon class="br" fill="url(#gR_vks)" points="2528,1045.9 2528,900.1 2456.5,900.1 2456.5,918.1 2510,918.1 2510,1045.9"/>
<polygon class="br" fill="url(#gR_pgm)" points="2528,1045.9 2528,1191.7 2456.5,1191.7 2456.5,1173.7 2510,1173.7 2510,1045.9"/>
<polygon class="br" fill="url(#gR_vk)" points="2465.5,909.1 2465.5,831.7 2393.5,831.7 2393.5,849.7 2447.5,849.7 2447.5,909.1"/>
<polygon class="br" fill="url(#gR_salv)" points="2465.5,909.1 2465.5,986.5 2286,986.5 2286,968.5 2447.5,968.5 2447.5,909.1"/>
<polygon class="br" fill="url(#gR_var)" points="2402.5,840.7 2402.5,786.1 2286,786.1 2286,804.1 2384.5,804.1 2384.5,840.7"/>
<polygon class="br" fill="url(#gR_komo)" points="2402.5,840.7 2402.5,895.3 2286,895.3 2286,877.3 2384.5,877.3 2384.5,840.7"/>
<polygon class="br" fill="url(#gR_pg)" points="2465.5,1182.7 2465.5,1105.3 2393.5,1105.3 2393.5,1123.3 2447.5,1123.3 2447.5,1182.7"/>
<polygon class="br" fill="url(#gR_mert)" points="2465.5,1182.7 2465.5,1260.1 2286,1260.1 2286,1242.1 2447.5,1242.1 2447.5,1182.7"/>
<polygon class="br" fill="url(#gR_pan)" points="2402.5,1114.3 2402.5,1059.7 2286,1059.7 2286,1077.7 2384.5,1077.7 2384.5,1114.3"/>
<polygon class="br" fill="url(#gR_gig)" points="2402.5,1114.3 2402.5,1168.9 2286,1168.9 2286,1150.9 2384.5,1150.9 2384.5,1114.3"/>
<polygon class="br" fill="url(#gR_smt)" points="2555,1570.3 2555,1447.3 2499,1447.3 2499,1465.3 2537,1465.3 2537,1570.3"/>
<polygon class="br" fill="url(#gR_gba)" points="2555,1570.3 2555,1693.3 2517.6,1693.3 2517.6,1675.3 2537,1675.3 2537,1570.3"/>
<polygon class="br" fill="url(#gR_sm)" points="2508,1456.3 2508,1378.9 2434,1378.9 2434,1396.9 2490,1396.9 2490,1456.3"/>
<polygon class="br" fill="url(#gR_tris)" points="2508,1456.3 2508,1533.7 2286,1533.7 2286,1515.7 2490,1515.7 2490,1456.3"/>
<polygon class="br" fill="url(#gR_scal)" points="2443,1387.9 2443,1333.3 2286,1333.3 2286,1351.3 2425,1351.3 2425,1387.9"/>
<polygon class="br" fill="url(#gR_mitch)" points="2443,1387.9 2443,1442.5 2286,1442.5 2286,1424.5 2425,1424.5 2425,1387.9"/>
<polygon class="br" fill="url(#gR_gill)" points="2526.6,1684.3 2526.6,1606.9 2286,1606.9 2286,1624.9 2508.6,1624.9 2508.6,1684.3"/>
<polygon class="br" fill="url(#gR_ba)" points="2526.6,1684.3 2526.6,1761.7 2364,1761.7 2364,1743.7 2508.6,1743.7 2508.6,1684.3"/>
<polygon class="br" fill="url(#gR_bar)" points="2373,1752.7 2373,1698.1 2286,1698.1 2286,1716.1 2355,1716.1 2355,1752.7"/>
<polygon class="br" fill="url(#gR_bar)" points="2373,1752.7 2373,1807.3 2286,1807.3 2286,1789.3 2355,1789.3 2355,1752.7"/>
</g>
</g>

<g id="nodes-anterior">
<g id="nL_root"><rect class="nd" fill="url(#bL_root)" x="31" y="300" width="160" height="36"/></g>
<g id="nL_H"><rect class="nd" fill="url(#bL_H)" x="1136" y="106.9" width="88" height="36"/></g>
<g id="nL_Heh"><rect class="nd" fill="url(#bL_Heh)" x="1274" y="175.3" width="70" height="36"/></g>
<g id="nL_LV"><rect class="nd" fill="url(#bL_LV)" x="422" y="493.1" width="153" height="36"/></g>
<g id="nL_V1"><rect class="nd" fill="url(#bL_V1)" x="920" y="674.1" width="137" height="36"/></g>
<g id="nL_X"><rect class="nd" fill="url(#bL_X)" x="1019" y="944.8" width="113" height="36"/></g>
<g id="nL_pjm"><rect class="nd" fill="url(#bL_pjm)" x="1108" y="608.5" width="116" height="36"/></g>
<g id="nL_jm"><rect class="nd" fill="url(#bL_jm)" x="1239" y="540.1" width="105" height="36"/></g>
<g id="nL_lower"><rect class="nd" fill="url(#bL_lower)" x="1086" y="1281.1" width="102" height="36"/></g>
<g id="nL_big"><rect class="nd" fill="url(#bL_big)" x="1147" y="1018.9" width="100" height="36"/></g>
<g id="nL_vks"><rect class="nd" fill="url(#bL_vks)" x="1209" y="882.1" width="100" height="36"/></g>
<g id="nL_vk"><rect class="nd" fill="url(#bL_vk)" x="1283" y="813.7" width="81" height="36"/></g>
<g id="nL_pgm"><rect class="nd" fill="url(#bL_pgm)" x="1209" y="1155.7" width="100" height="36"/></g>
<g id="nL_pg"><rect class="nd" fill="url(#bL_pg)" x="1277" y="1087.3" width="94" height="36"/></g>
<g id="nL_odat"><rect class="nd" fill="url(#bL_odat)" x="1122" y="1543.3" width="99" height="36"/></g>
<g id="nL_smt"><rect class="nd" fill="url(#bL_smt)" x="1165" y="1429.3" width="104" height="36"/></g>
<g id="nL_sm"><rect class="nd" fill="url(#bL_sm)" x="1231" y="1360.9" width="103" height="36"/></g>
<g id="nL_gba"><rect class="nd" fill="url(#bL_gba)" x="1148" y="1657.3" width="103" height="36"/></g>
<g id="nL_ba"><rect class="nd" fill="url(#bL_ba)" x="1318" y="1725.7" width="69" height="36"/></g>
</g>

<g id="nodes-posterior">
<g id="nR_root"><rect class="nd" fill="url(#bR_root)" x="3525" y="309" width="169" height="36"/></g>
<g id="nR_H"><rect class="nd" fill="url(#bR_H)" x="2491" y="115.9" width="89" height="36"/></g>
<g id="nR_Heh"><rect class="nd" fill="url(#bR_Heh)" x="2372" y="184.3" width="72" height="36"/></g>
<g id="nR_LV"><rect class="nd" fill="url(#bR_LV)" x="3141" y="502.1" width="154" height="36"/></g>
<g id="nR_V1"><rect class="nd" fill="url(#bR_V1)" x="2659" y="683.1" width="138" height="36"/></g>
<g id="nR_X"><rect class="nd" fill="url(#bR_X)" x="2584" y="953.8" width="115" height="36"/></g>
<g id="nR_pjm"><rect class="nd" fill="url(#bR_pjm)" x="2491" y="617.5" width="119" height="36"/></g>
<g id="nR_jm"><rect class="nd" fill="url(#bR_jm)" x="2372" y="549.1" width="105" height="36"/></g>
<g id="nR_lower"><rect class="nd" fill="url(#bR_lower)" x="2529" y="1290.1" width="100" height="36"/></g>
<g id="nR_big"><rect class="nd" fill="url(#bR_big)" x="2469" y="1027.9" width="101" height="36"/></g>
<g id="nR_vks"><rect class="nd" fill="url(#bR_vks)" x="2406" y="891.1" width="102" height="36"/></g>
<g id="nR_vk"><rect class="nd" fill="url(#bR_vk)" x="2346" y="822.7" width="95" height="36"/></g>
<g id="nR_pgm"><rect class="nd" fill="url(#bR_pgm)" x="2406" y="1164.7" width="102" height="36"/></g>
<g id="nR_pg"><rect class="nd" fill="url(#bR_pg)" x="2346" y="1096.3" width="95" height="36"/></g>
<g id="nR_odat"><rect class="nd" fill="url(#bR_odat)" x="2495" y="1552.3" width="100" height="36"/></g>
<g id="nR_smt"><rect class="nd" fill="url(#bR_smt)" x="2450" y="1438.3" width="99" height="36"/></g>
<g id="nR_sm"><rect class="nd" fill="url(#bR_sm)" x="2386" y="1369.9" width="96" height="36"/></g>
<g id="nR_gba"><rect class="nd" fill="url(#bR_gba)" x="2467" y="1666.3" width="101" height="36"/></g>
<g id="nR_ba"><rect class="nd" fill="url(#bR_ba)" x="2330" y="1734.7" width="69" height="36"/></g>
</g>

<g id="anterior-values" class="num">
<text x="1475" y="83">0.00</text><text x="1475" y="174.2">0.00</text><text x="1475" y="265.4">0.00</text><text x="1475" y="356.6">0.00</text><text x="1475" y="447.8">0.51</text><text x="1475" y="539">0.80</text><text x="1475" y="630.2">0.79</text><text x="1475" y="721.4">0.58</text><text x="1475" y="812.6">1.00</text><text x="1475" y="903.8">0.98</text><text x="1475" y="995">0.98</text><text x="1475" y="1086.2">0.63</text><text x="1475" y="1177.4">0.74</text><text x="1475" y="1268.6">0.05</text><text x="1475" y="1359.8">0.63</text><text x="1475" y="1451">0.00</text><text x="1475" y="1542.2">0.00</text><text x="1475" y="1633.4">0.00</text><text x="1475" y="1724.6">0.00</text><text x="1475" y="1815.8">0.00</text>
</g>
<g id="taxa" class="sp">
<text x="1856" y="83">H. suspectum</text><text x="1856" y="174.2">H. exasperatum</text><text x="1856" y="265.4">H. horridum</text><text x="1856" y="356.6">L. borneensis</text><text x="1856" y="447.8">V. griseus</text><text x="1856" y="539">V. jobiensis</text><text x="1856" y="630.2">V. melinus</text><text x="1856" y="721.4">V. prasinus</text><text x="1856" y="812.6">V. varius</text><text x="1856" y="903.8">V. komodoensis</text><text x="1856" y="995">V. salvadorii</text><text x="1856" y="1086.2">V. panoptes rubidus</text><text x="1856" y="1177.4">V. giganteus</text><text x="1856" y="1268.6">V. mertensi</text><text x="1856" y="1359.8">V. scalaris</text><text x="1856" y="1451">V. mitchelli</text><text x="1856" y="1542.2">V. tristis</text><text x="1856" y="1633.4">V. gilleni</text><text x="1856" y="1724.6">V. baritji</text><text x="1856" y="1815.8">V. acanthurus</text>
</g>
<g id="posterior-values" class="num">
<text x="2120" y="83">0.00</text><text x="2120" y="174.2">0.00</text><text x="2120" y="265.4">0.00</text><text x="2120" y="356.6">0.00</text><text x="2120" y="447.8">0.49</text><text x="2120" y="539">0.46</text><text x="2120" y="630.2">0.48</text><text x="2120" y="721.4">0.40</text><text x="2120" y="812.6">0.80</text><text x="2120" y="903.8">1.00</text><text x="2120" y="995">0.90</text><text x="2120" y="1086.2">0.51</text><text x="2120" y="1177.4">0.72</text><text x="2120" y="1268.6">0.04</text><text x="2120" y="1359.8">0.27</text><text x="2120" y="1451">0.00</text><text x="2120" y="1542.2">0.00</text><text x="2120" y="1633.4">0.00</text><text x="2120" y="1724.6">0.00</text><text x="2120" y="1815.8">0.00</text>
</g>

<g id="legend-anterior">
<text class="lg" x="100" y="1898" textLength="818" lengthAdjust="spacing">relative degree of anterior serrations</text>
<rect x="100" y="1920" width="678" height="21" fill="url(#cmap)" stroke="#1a1a1a" stroke-width="3"/>
<text class="num" x="100" y="1995">0</text>
<text class="num" x="778" y="1995" text-anchor="end">1</text>
</g>
<g id="legend-posterior">
<text class="lg" x="2728" y="1884" textLength="835" lengthAdjust="spacing">relative degree of posterior serrations</text>
<rect x="2884" y="1918" width="676" height="21" fill="url(#cmap)" stroke="#1a1a1a" stroke-width="3"/>
<text class="num" x="2882" y="1990">0</text>
<text class="num" x="3561" y="1990" text-anchor="end">1</text>
</g>
</svg>
